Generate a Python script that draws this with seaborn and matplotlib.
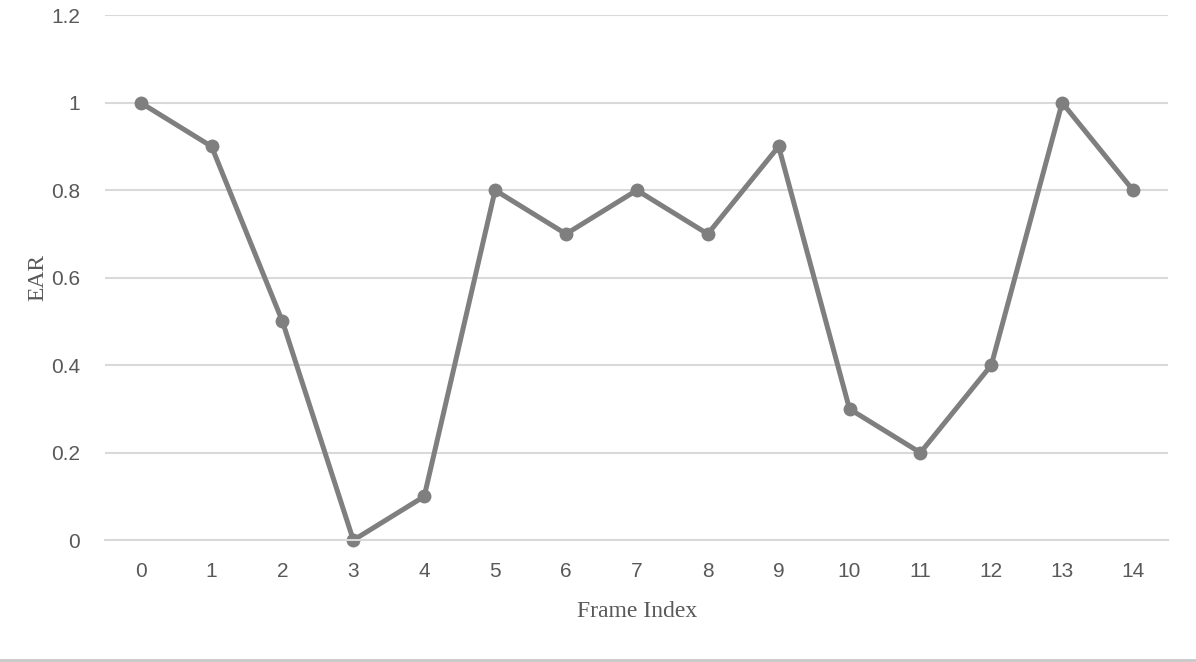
import matplotlib
matplotlib.use("Agg")
import matplotlib.pyplot as plt
from matplotlib.lines import Line2D
import pandas as pd
import seaborn as sns

# ── Data ───────────────────────────────────────────────────────────────────────
frame_index = list(range(15))
ear_values = [1.0, 0.9, 0.5, 0.0, 0.1, 0.8, 0.7, 0.8, 0.7, 0.9, 0.3, 0.2, 0.4, 1.0, 0.8]
y_ticks = [0, 0.2, 0.4, 0.6, 0.8, 1.0, 1.2]
y_tick_labels = ["0", "0.2", "0.4", "0.6", "0.8", "1", "1.2"]

LINE_COLOR = "#7f7f7f"
GRID_COLOR = "#d9d9d9"
TEXT_COLOR = "#595959"

sns.set_theme(style="white")
plt.rcParams["font.family"] = ["Liberation Sans", "DejaVu Sans"]

df = pd.DataFrame({"frame": frame_index, "ear": ear_values})

fig = plt.figure(figsize=(11.96, 6.62), dpi=100)
ax = fig.add_axes([0.088, 0.184, 0.889, 0.793])

sns.lineplot(
    data=df, x="frame", y="ear", ax=ax,
    color=LINE_COLOR, linewidth=3.6,
    marker="o", markersize=10, markeredgewidth=0,
)
for line in ax.lines:
    line.set_clip_on(False)

ax.set_xlim(-0.5, 14.5)
ax.set_ylim(0, 1.2)
ax.set_xticks(frame_index)
ax.set_xticklabels([str(i) for i in frame_index])
ax.set_yticks(y_ticks)
ax.set_yticklabels(y_tick_labels)
ax.tick_params(axis="both", length=0, labelsize=15, labelcolor=TEXT_COLOR)
ax.tick_params(axis="x", pad=16)
ax.tick_params(axis="y", pad=18)

ax.grid(axis="y", color=GRID_COLOR, linewidth=1.5)
ax.grid(axis="x", visible=False)
ax.set_axisbelow(True)
for side in ["top", "right", "left"]:
    ax.spines[side].set_visible(False)
ax.spines["bottom"].set_color(GRID_COLOR)
ax.spines["bottom"].set_linewidth(1.5)

ax.set_xlabel("Frame Index", fontsize=17, color=TEXT_COLOR,
              family=["Liberation Serif", "DejaVu Serif"], labelpad=14)
ax.set_ylabel("EAR", fontsize=17, color=TEXT_COLOR,
              family=["Liberation Serif", "DejaVu Serif"], labelpad=2)

# thin border line at the bottom edge of the screenshot
fig.add_artist(Line2D([0, 1], [0.003, 0.003], transform=fig.transFigure,
                      color="#c8c8c8", linewidth=2))

fig.savefig("out.png", dpi=100, facecolor="white")
